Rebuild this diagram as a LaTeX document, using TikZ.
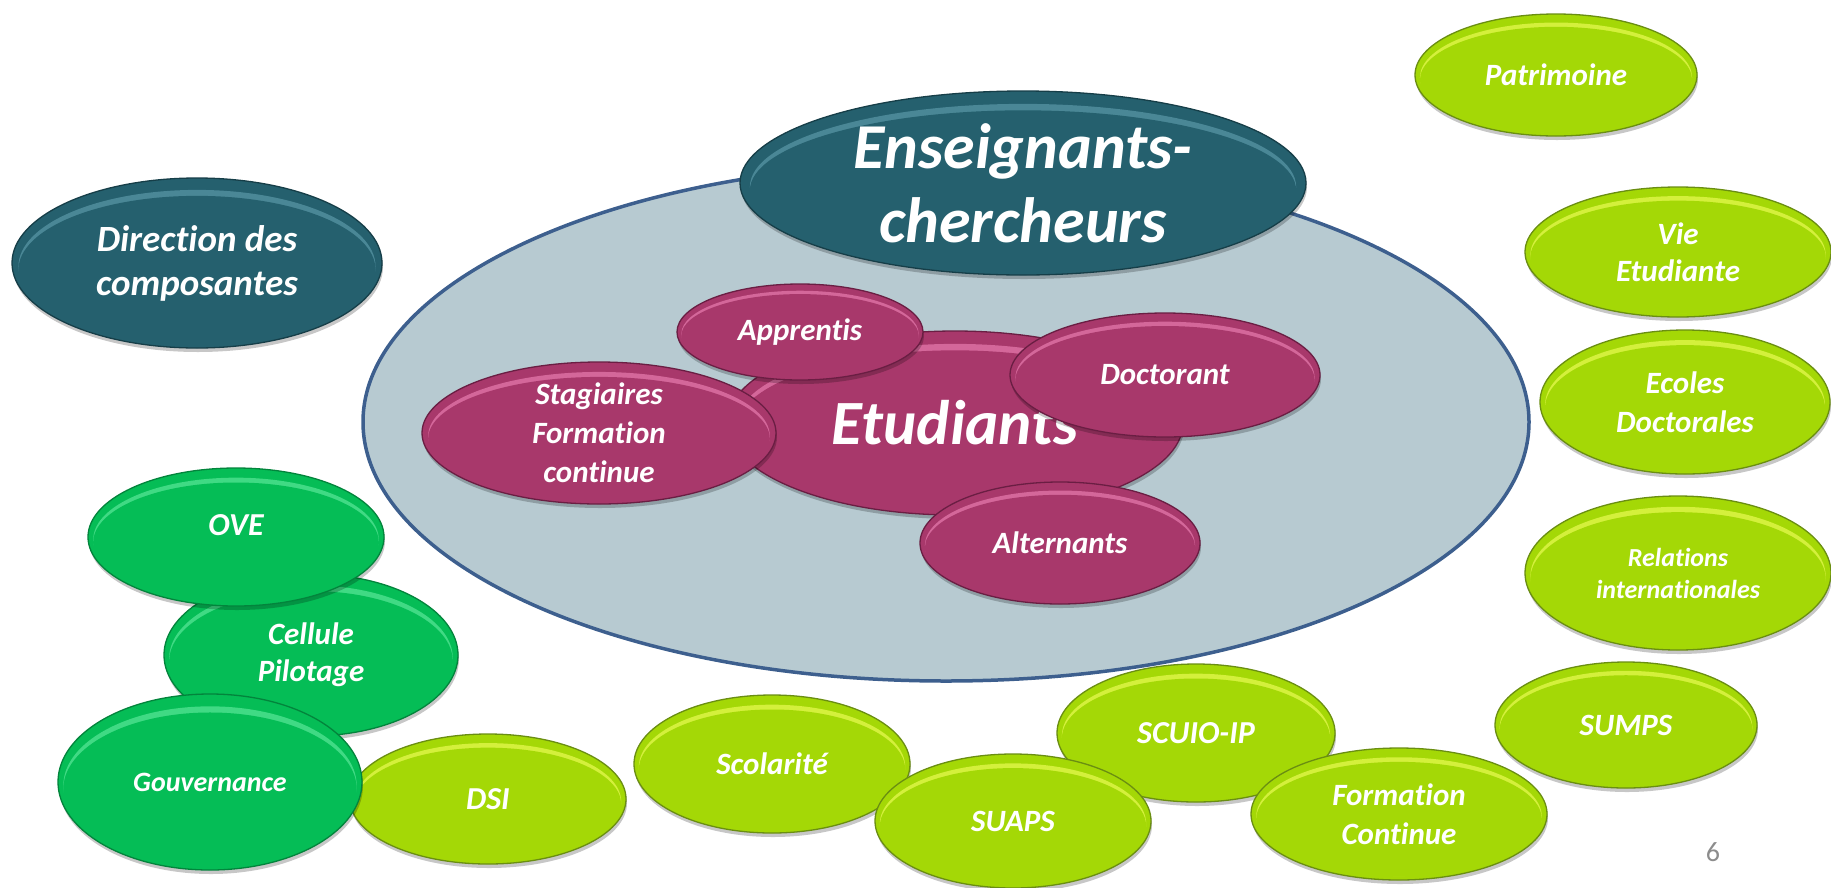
\documentclass[tikz,border=0pt]{standalone}
\usepackage{fontspec}
\setmainfont{Carlito}[Ligatures={NoCommon,NoRare,NoContextual}, Contextuals={NoAlternate}]
\usetikzlibrary{shapes.geometric}
\definecolor{tealB}{HTML}{25606E}
\definecolor{tealH}{HTML}{4A8796}
\definecolor{tealD}{HTML}{163E48}
\definecolor{magB}{HTML}{A8386B}
\definecolor{magH}{HTML}{D4679A}
\definecolor{magD}{HTML}{6A1E43}
\definecolor{grnB}{HTML}{05BD56}
\definecolor{grnH}{HTML}{40DA84}
\definecolor{grnD}{HTML}{03843C}
\definecolor{limB}{HTML}{A4D806}
\definecolor{limH}{HTML}{D4F03C}
\definecolor{limD}{HTML}{6A8E12}
\definecolor{campusfill}{HTML}{B7CAD1}
\definecolor{campusring}{HTML}{3D5F8E}
\definecolor{pagegray}{HTML}{8C8C8C}
\tikzset{
  bubshape/.style={ellipse, inner sep=0pt, outer sep=0pt, line width=1.3pt},
  bubtext/.style={text=white, align=center, inner sep=0pt},
}
\def\bubshift{0pt}
% #1 name, #2 x, #3 y, #4 rx, #5 ry, #6 colour family, #7 font size, #8 leading, #9 text
\newcommand\bubble[9]{%
  \fill[black, opacity=.22] ({#2+1},{#3+4}) ellipse [x radius=#4, y radius=#5];
  \fill[#6B] (#2,#3) ellipse [x radius=#4, y radius=#5];
  \fill[#6H] (#2,{#3+0.04*#5}) ellipse [x radius={0.965*#4}, y radius={0.9*#5}];
  \fill[#6B] (#2,{#3+0.08*#5}) ellipse [x radius={0.965*#4}, y radius={0.87*#5}];
  \node[bubshape, draw=#6D, minimum width={2*#4}, minimum height={2*#5}] (#1) at (#2,#3) {};
  \node[bubtext, font=\fontsize{#7}{#8}\selectfont\bfseries\itshape, yshift=\bubshift] (#1-t) at (#1.center) {#9};
}
\begin{document}
\begin{tikzpicture}[x=1pt, y=-1pt]
\useasboundingbox (0,0) rectangle (1831,887);
% central area
\node[ellipse, fill=campusfill, draw=campusring, line width=3.5pt, minimum width=1166pt, minimum height=518pt, inner sep=0pt] (campus) at (946,422) {};
\bubble{ens}{1023}{183}{283}{92}{teal}{64}{74}{Enseignants-\\chercheurs}
\bubble{dir}{197}{263}{185}{85}{teal}{37}{44}{Direction des\\composantes}
% students
\bubble{etu}{955}{423}{228}{92}{mag}{63}{70}{Etudiants}
\bubble{stag}{599}{433}{177}{71}{mag}{31}{39}{Stagiaires\\Formation\\continue}
\bubble{app}{800}{332}{123}{48}{mag}{31}{37}{Apprentis}
\bubble{doc}{1165}{375}{155}{62}{mag}{31}{37}{Doctorant}
\bubble{alt}{1060}{543}{140}{61}{mag}{31}{37}{Alternants}
% left green column
\bubble{cell}{311}{655}{147}{81}{grn}{31}{37}{Cellule\\Pilotage}
\def\bubshift{12pt}
\bubble{ove}{236}{537}{148}{69}{grn}{32}{37}{OVE}
\def\bubshift{0pt}
\bubble{dsi}{488}{799}{138}{65}{lim}{32}{37}{DSI}
\bubble{gouv}{210}{782}{152}{88}{grn}{28}{34}{Gouvernance}
% bottom row
\bubble{scol}{772}{764}{138}{69}{lim}{31}{37}{Scolarité}
\bubble{scuio}{1196}{733}{139}{69}{lim}{32}{37}{SCUIO-IP}
\bubble{suaps}{1013}{821}{138}{67}{lim}{31}{37}{SUAPS}
\bubble{sumps}{1626}{725}{131}{63}{lim}{31}{37}{SUMPS}
\bubble{fc}{1399}{814}{148}{66}{lim}{31}{39}{Formation\\Continue}
% right column
\bubble{pat}{1556}{75}{141}{61}{lim}{31}{37}{Patrimoine}
\bubble{vie}{1678}{252}{153}{65}{lim}{31}{37}{Vie\\Etudiante}
\bubble{ecol}{1685}{402}{145}{72}{lim}{31}{39}{Ecoles\\Doctorales}
\bubble{rel}{1678}{573}{153}{77}{lim}{26}{32}{Relations\\internationales}
% page number
\node[text=pagegray, font=\fontsize{28}{34}\selectfont, inner sep=0pt] (pg) at (1713,852) {6};
\end{tikzpicture}
\end{document}
